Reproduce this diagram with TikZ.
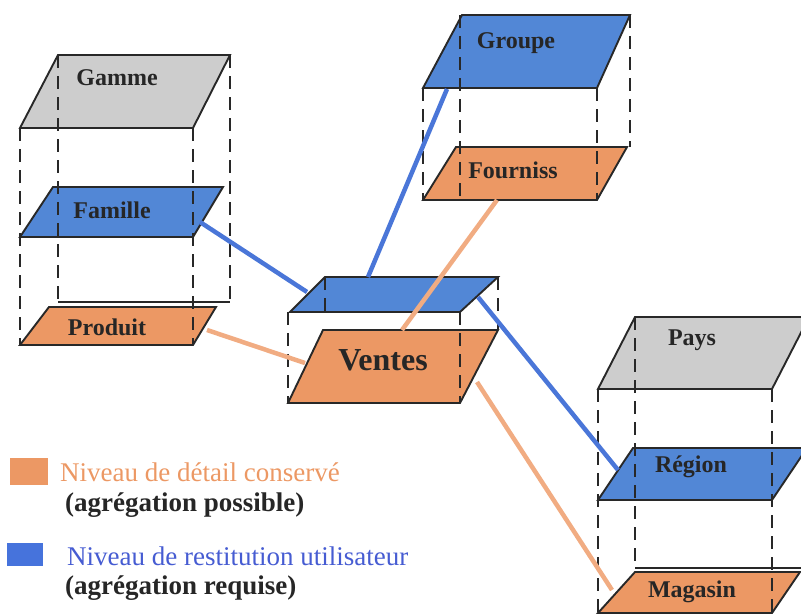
\documentclass[tikz,border=0pt]{standalone}
\usepackage{fontspec}
\setmainfont{Liberation Serif}
\usetikzlibrary{positioning}
\definecolor{keptorange}{RGB}{236,152,100}
\definecolor{userblue}{RGB}{82,135,214}
\definecolor{topgray}{RGB}{205,205,205}
\definecolor{linkorange}{RGB}{241,172,130}
\definecolor{linkblue}{RGB}{74,118,216}
\definecolor{legendblue}{RGB}{70,92,210}
\definecolor{edgegray}{RGB}{40,40,40}

\begin{document}
\begin{tikzpicture}[
	  x=1pt, y=-1pt,
	  plane/.style={
	  	draw=edgegray,
	  	line width=1.9pt,
	  	line join=miter
	  },
	  kept/.style={plane, fill=keptorange},
	  user/.style={plane, fill=userblue},
	  upper/.style={plane, fill=topgray},
	  edge_dash/.style={draw=edgegray, line width=1.9pt, dash pattern=on 13pt off 8pt},
	  back_line/.style={draw=edgegray, line width=1.9pt},
	  level_label/.style={
	  	inner sep=0pt,
	  	text=black!85,
	  	font=\fontsize{24}{26}\selectfont\bfseries
	  },
	  link_blue/.style={draw=linkblue, line width=4.5pt},
	  link_orange/.style={draw=linkorange, line width=4.5pt},
	  legend_text/.style={
	  	anchor=west,
	  	inner sep=0pt,
	  	font=\fontsize{27}{29}\selectfont
	  }]
	\useasboundingbox (0,0) rectangle (801,614);
	\clip (0,0) rectangle (801,614);

	% Product hierarchy
	\draw[upper] (20,128) -- (193,128) -- (230,55) -- (58,55) -- cycle;
	\draw[user] (20,237) -- (193,237) -- (223,187) -- (53,187) -- cycle;
	\draw[back_line] (58,302) -- (230,302);
	\draw[kept] (20,345) -- (193,345) -- (216,307) -- (49,307) -- cycle;
	\draw[edge_dash] (20,128) -- (20,345);
	\draw[edge_dash] (193,128) -- (193,345);
	\draw[edge_dash] (58,55) -- (58,302);
	\draw[edge_dash] (230,55) -- (230,302);
	\node[level_label] (gamme) at (117,78) {Gamme};
	\node[level_label] (famille) at (112,210) {Famille};
	\node[level_label] (produit) at (107,327) {Produit};

	% Supplier hierarchy
	\draw[user] (423,88) -- (597,88) -- (630,15) -- (462,15) -- cycle;
	\draw[kept] (423,200) -- (597,200) -- (627,147) -- (456,147) -- cycle;
	\draw[edge_dash] (423,88) -- (423,200);
	\draw[edge_dash] (597,88) -- (597,200);
	\draw[edge_dash] (460,15) -- (460,200);
	\draw[edge_dash] (630,15) -- (630,147);
	\node[level_label] (groupe) at (516,43) {Groupe};
	\node[level_label] (fourniss) at (513,170) {Fourniss};

	% Sales facts
	\draw[user] (290,312) -- (460,312) -- (498,277) -- (325,277) -- cycle;
	\draw[kept] (288,403) -- (460,403) -- (498,330) -- (323,330) -- cycle;
	\draw[edge_dash] (288,312) -- (288,403);
	\draw[edge_dash] (460,312) -- (460,403);
	\draw[edge_dash] (325,277) -- (325,312);
	\draw[edge_dash] (498,277) -- (498,330);
	\node[level_label, font=\fontsize{32}{34}\selectfont\bfseries] (ventes) at (383,360) {Ventes};

	% Store hierarchy
	\draw[upper] (598,389) -- (772,389) -- (809,317) -- (635,317) -- cycle;
	\draw[user] (598,500) -- (772,500) -- (807,448) -- (633,448) -- cycle;
	\draw[back_line] (635,568) -- (809,568);
	\draw[kept] (598,613) -- (772,613) -- (800,572) -- (635,572) -- cycle;
	\draw[edge_dash] (598,389) -- (598,614);
	\draw[edge_dash] (772,389) -- (772,614);
	\draw[edge_dash] (635,317) -- (635,568);
	\node[level_label] (pays) at (692,340) {Pays};
	\node[level_label] (region) at (691,467) {Région};
	\node[level_label] (magasin) at (692,592) {Magasin};

	% Link ends
	\coordinate (famille-out) at (200,222);
	\coordinate (produit-out) at (207,330);
	\coordinate (groupe-out) at (447,89);
	\coordinate (fourniss-out) at (497,200);
	\coordinate (ventes-west) at (307,292);
	\coordinate (ventes-top) at (368,277);
	\coordinate (ventes-east) at (478,297);
	\coordinate (ventes-left) at (305,363);
	\coordinate (ventes-mid) at (402,330);
	\coordinate (ventes-right) at (477,382);
	\coordinate (region-in) at (618,470);
	\coordinate (magasin-in) at (612,590);

	% Links
	\draw[link_blue] (famille-out) -- (ventes-west);
	\draw[link_blue] (groupe-out) -- (ventes-top);
	\draw[link_blue] (ventes-east) -- (region-in);
	\draw[link_orange] (produit-out) -- (ventes-left);
	\draw[link_orange] (fourniss-out) -- (ventes-mid);
	\draw[link_orange] (ventes-right) -- (magasin-in);

	% Legend
	\fill[keptorange] (10,458) rectangle (48,485);
	\fill[userblue!85!blue] (7,543) rectangle (43,566);
	\node[legend_text, text=keptorange] (kept-text) at (60,472) {Niveau de détail conservé};
	\node[legend_text, font=\fontsize{27}{29}\selectfont\bfseries, text=black!85] (kept-note) at (65,505) {(agrégation possible)};
	\node[legend_text, text=legendblue] (user-text) at (67,556) {Niveau de restitution utilisateur};
	\node[legend_text, font=\fontsize{27}{29}\selectfont\bfseries, text=black!85] (user-note) at (65,588) {(agrégation requise)};
\end{tikzpicture}
\end{document}
